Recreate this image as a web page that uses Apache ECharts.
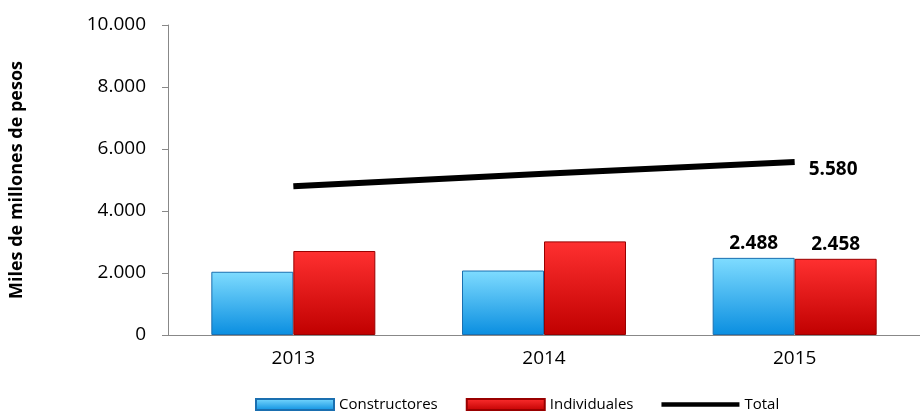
<!DOCTYPE html>
<html><head><meta charset="UTF-8">
<script src="https://cdn.jsdelivr.net/npm/echarts@6/dist/echarts.min.js"></script>
<style>html,body{margin:0;padding:0;background:#fff}#c{width:920px;height:417px}</style>
</head><body><div id="c"></div>
<script>
const years = ['2013', '2014', '2015'];
const constructores = [2040, 2080, 2488];
const individuales = [2710, 3020, 2458];
const total = [4800, 5200, 5580];
const fmt = v => String(v).replace(/\B(?=(\d{3})+(?!\d))/g, '.');
const lastLabel = (p) => p.dataIndex === 2 ? fmt(p.value) : '';
const grad = (a, b) => new echarts.graphic.LinearGradient(0, 0, 0, 1, [{offset: 0, color: a}, {offset: 1, color: b}]);
const chart = echarts.init(document.getElementById('c'));
chart.setOption({
  animation: false,
  textStyle: {fontFamily: 'Open Sans'},
  grid: {left: 168, top: 25, width: 766, bottom: 82},
  legend: {bottom: 0, left: 250, itemWidth: 78, itemHeight: 11, itemGap: 28,
    textStyle: {fontSize: 15, color: '#000'},
    data: [{name: 'Constructores', icon: 'rect'}, {name: 'Individuales', icon: 'rect'},
      {name: 'Total', icon: 'path://M0,3 L100,3 L100,9 L0,9 Z'}]},
  xAxis: {type: 'category', data: years,
    axisLine: {lineStyle: {color: '#888'}}, axisTick: {length: 6, lineStyle: {color: '#888'}},
    axisLabel: {fontSize: 19, color: '#000', margin: 14}},
  yAxis: {type: 'value', min: 0, max: 10000, interval: 2000,
    name: 'Miles de millones de pesos', nameLocation: 'middle', nameGap: 142,
    nameTextStyle: {fontSize: 18, fontWeight: 'bold', color: '#000'},
    axisLine: {show: true, lineStyle: {color: '#888'}}, axisTick: {show: true, length: 6, lineStyle: {color: '#888'}},
    splitLine: {show: false},
    axisLabel: {fontSize: 19, color: '#000', margin: 22, formatter: fmt}},
  series: [
    {name: 'Constructores', type: 'bar', data: constructores, barWidth: 82, barGap: '0%',
      itemStyle: {color: grad('#7fdcff', '#0a8ee0'), borderColor: '#1a6fb0', borderWidth: 1},
      label: {show: true, position: 'top', fontSize: 19, fontWeight: 'bold', color: '#000', formatter: lastLabel}},
    {name: 'Individuales', type: 'bar', data: individuales, barWidth: 82,
      itemStyle: {color: grad('#ff3030', '#c00000'), borderColor: '#900', borderWidth: 1},
      label: {show: true, position: 'top', fontSize: 19, fontWeight: 'bold', color: '#000', formatter: lastLabel}},
    {name: 'Total', type: 'line', data: total, symbol: 'none', lineStyle: {color: '#000', width: 6}, itemStyle: {color: '#000'},
      endLabel: {show: true, distance: 14, offset: [0, 8], fontSize: 19, fontWeight: 'bold', color: '#000',
        formatter: p => fmt(p.value)}}
  ]
});
</script></body></html>
